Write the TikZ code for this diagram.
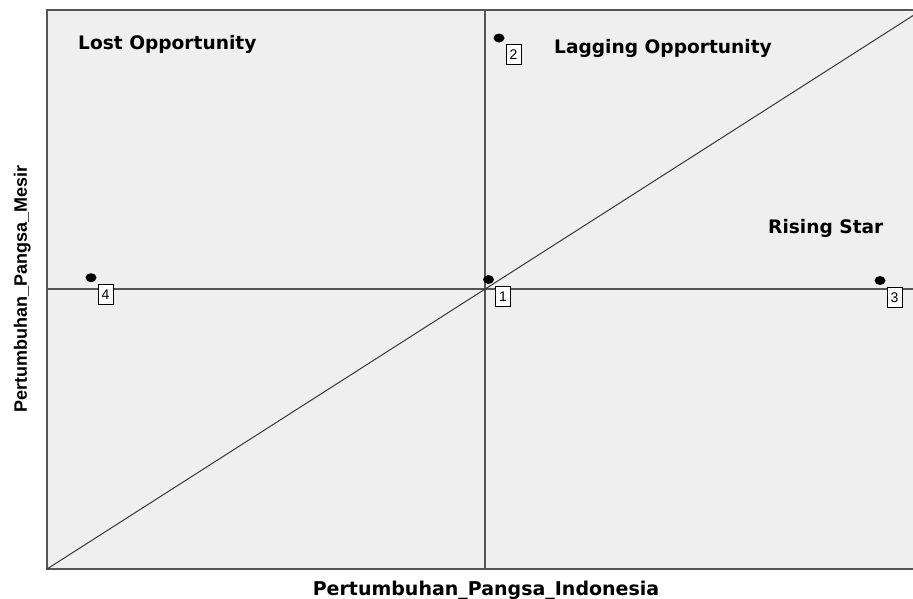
\documentclass[tikz,border=0pt]{standalone}
\usepackage{fontspec}
\setmainfont{DejaVu Sans}
\newfontfamily\arialfont{Liberation Sans}
\usetikzlibrary{positioning}
\usetikzlibrary{shapes.geometric}
\definecolor{plotbg}{RGB}{239,239,239}
\definecolor{framegray}{RGB}{85,85,85}
\definecolor{diaggray}{RGB}{55,55,55}

\begin{document}
\begin{tikzpicture}[x=1pt,y=-1pt,
    quad/.style={font=\fontsize{18.6}{20}\selectfont\bfseries, inner sep=0pt, anchor=base west},
    dot/.style={ellipse, fill=black, inner sep=0pt, minimum width=11pt, minimum height=9pt},
    case/.style={draw, fill=white, line width=0.9pt, inner sep=0pt, minimum width=15pt, minimum height=20pt,
        font=\arialfont\fontsize{14}{14}\selectfont, below right=3pt and 2.5pt of #1}]
    \useasboundingbox (0,0) rectangle (913,598);
    % plot area
    \draw[framegray, line width=2pt, fill=plotbg] (47,10) rectangle (916,569);
    \coordinate (sw) at (47,569);
    \coordinate (ne) at (913,15.6);
    \coordinate (top) at (485,10);
    \coordinate (bot) at (485,569);
    \coordinate (lft) at (47,289);
    \coordinate (rgt) at (913,289);
    \draw[framegray, line width=1.5pt] (top) -- (bot);
    \draw[framegray, line width=1.5pt] (lft) -- (rgt);
    \draw[diaggray, line width=1pt] (sw) -- (ne);
    % quadrant names
    \node[quad] (lost) at (78,49) {Lost Opportunity};
    \node[quad] (lag) at (554,53) {Lagging Opportunity};
    \node[quad] (rise) at (768,233) {Rising Star};
    % cases
    \node[dot] (d1) at (488.5,279.5) {};
    \node[dot] (d2) at (499,38) {};
    \node[dot] (d3) at (880,280.5) {};
    \node[dot] (d4) at (91,277.7) {};
    \node[case=d1] (c1) {1};
    \node[case=d2] (c2) {2};
    \node[case=d3] (c3) {3};
    \node[case=d4] (c4) {4};
    % axis titles
    \node[font=\fontsize{19}{20}\selectfont\bfseries, inner sep=0pt, anchor=base] (xtitle) at (486,595) {Pertumbuhan\_Pangsa\_Indonesia};
    \node[font=\arialfont\fontsize{18}{20}\selectfont\bfseries, inner sep=0pt, anchor=base, rotate=90] (ytitle) at (27,289) {Pertumbuhan\_Pangsa\_Mesir};
\end{tikzpicture}
\end{document}
